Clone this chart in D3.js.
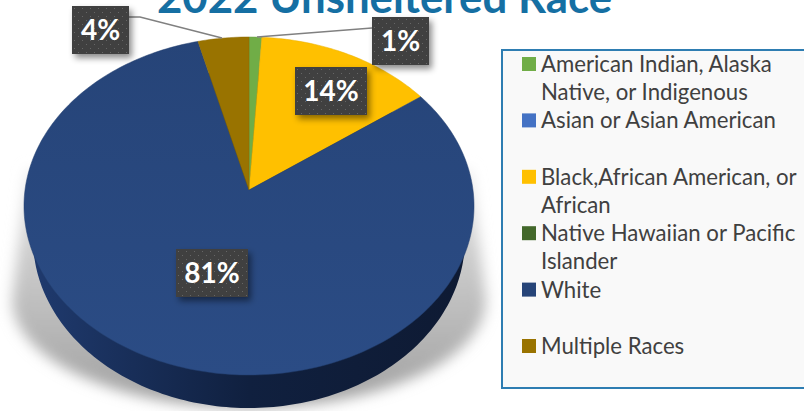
<!DOCTYPE html>
<html>
<head>
<meta charset="utf-8">
<script src="https://cdn.jsdelivr.net/npm/d3@7"></script>
<style>
html, body { margin: 0; padding: 0; background: #fff; overflow: hidden; }
text { font-family: Lato, sans-serif; }
</style>
</head>
<body>
<svg id="chart" width="804" height="411"></svg>
<script>
const categories = [
	'American Indian, Alaska Native, or Indigenous',
	'Asian or Asian American',
	'Black,African American, or African',
	'Native Hawaiian or Pacific Islander',
	'White',
	'Multiple Races'
]
const values = [1, 0, 14, 0, 81, 4]
const colors = ['#70ad47', '#4472c4', '#ffc000', '#43682b', '#264478', '#997300']
const legendLines = [
	['American Indian, Alaska', 'Native, or Indigenous'],
	['Asian or Asian American', ''],
	['Black,African American, or', 'African'],
	['Native Hawaiian or Pacific', 'Islander'],
	['White', ''],
	['Multiple Races']
]
const title = '2022 Unsheltered Race'

// label boxes sit where the original chart had them dragged to
const labelBoxes = {
	0: { x: 372, y: 17, w: 57, leader: [[372, 28], [257, 37]] },
	2: { x: 295, y: 67, w: 72 },
	4: { x: 176, y: 249, w: 72 },
	5: { x: 72, y: 6, w: 57, leader: [[129, 17], [140, 17], [222, 38]] }
}

const svg = d3.select('#chart')
const defs = svg.append('defs')

const blur = defs.append('filter').attr('id', 'floorBlur')
	.attr('x', '-20%').attr('y', '-20%').attr('width', '140%').attr('height', '140%')
blur.append('feGaussianBlur').attr('stdDeviation', 7)

const floorGrad = defs.append('linearGradient').attr('id', 'floorGrad')
	.attr('x1', 0).attr('x2', 0).attr('y1', 0).attr('y2', 1)
floorGrad.append('stop').attr('offset', 0).attr('stop-color', '#ececec')
floorGrad.append('stop').attr('offset', 0.35).attr('stop-color', '#cdcdcd')
floorGrad.append('stop').attr('offset', 1).attr('stop-color', '#a0a0a0')

const wallGrad = defs.append('linearGradient').attr('id', 'wallGrad')
wallGrad.append('stop').attr('offset', 0).attr('stop-color', '#1f3a6e')
wallGrad.append('stop').attr('offset', 0.5).attr('stop-color', '#10203f')
wallGrad.append('stop').attr('offset', 1).attr('stop-color', '#0e1a33')

const faceGrad = defs.append('linearGradient').attr('id', 'faceGrad')
	.attr('gradientUnits', 'userSpaceOnUse')
	.attr('x1', 249).attr('x2', 249).attr('y1', 37).attr('y2', 375)
faceGrad.append('stop').attr('offset', 0).attr('stop-color', '#264478')
faceGrad.append('stop').attr('offset', 1).attr('stop-color', '#2b4c85')

const shadow = defs.append('filter').attr('id', 'boxShadow')
	.attr('x', '-30%').attr('y', '-30%').attr('width', '170%').attr('height', '170%')
shadow.append('feDropShadow').attr('dx', 3).attr('dy', 4).attr('stdDeviation', 3)
	.attr('flood-color', '#000').attr('flood-opacity', 0.45)

const dots = defs.append('pattern').attr('id', 'dots')
	.attr('width', 8).attr('height', 8).attr('patternUnits', 'userSpaceOnUse')
dots.append('rect').attr('width', 8).attr('height', 8).attr('fill', '#404040')
dots.append('rect').attr('x', 2).attr('y', 2).attr('width', 1).attr('height', 1).attr('fill', '#666')
dots.append('rect').attr('x', 6).attr('y', 6).attr('width', 1).attr('height', 1).attr('fill', '#666')

// the pie is tilted with perspective, so the apex is above the ellipse centre
const persp = -0.0947
const project = (a, r, cx, cy, kx, ky) => {
	const u = Math.sin(a) * r
	const v = -Math.cos(a) * r
	const w = 1 + persp * v
	return [cx + kx * u / w, cy + ky * v / w]
}

const slicePath = (d, cx, cy, kx, ky) => {
	const steps = Math.max(2, Math.ceil((d.endAngle - d.startAngle) / 0.02))
	const pts = [[cx, cy]]
	d3.range(steps + 1).forEach(i => {
		const a = d.startAngle + (d.endAngle - d.startAngle) * i / steps
		pts.push(project(a, 1, cx, cy, kx, ky))
	})
	return d3.line()(pts) + 'Z'
}

const arcs = d3.pie().sort(null).value(d => d)(values)
const shown = arcs.filter(d => d.value > 0)

// floor shadow, tapers upward behind the pie
svg.append('path')
	.attr('d', 'M27 170 L12 300 A237 108 0 0 0 486 300 L471 170 Z')
	.attr('fill', 'url(#floorGrad)')
	.attr('filter', 'url(#floorBlur)')

// side wall
svg.append('g').selectAll('path')
	.data(shown)
	.enter()
	.append('path')
	.attr('d', d => slicePath(d, 249, 223, 215, 167.5))
	.attr('fill', 'url(#wallGrad)')

// top face
svg.append('g').selectAll('path')
	.data(shown)
	.enter()
	.append('path')
	.attr('d', d => slicePath(d, 249, 190, 224, 167.5))
	.attr('fill', d => d.index === 4 ? 'url(#faceGrad)' : colors[d.index])
	.attr('stroke', d => d3.color(colors[d.index]).darker(0.25))
	.attr('stroke-width', 0.5)

// leader lines
const leaderData = Object.values(labelBoxes).filter(d => d.leader)
svg.append('g').selectAll('path')
	.data(leaderData)
	.enter()
	.append('path')
	.attr('d', d => d3.line()(d.leader))
	.attr('fill', 'none')
	.attr('stroke', '#808080')
	.attr('stroke-width', 1.5)

// data labels
const labels = svg.append('g').selectAll('g')
	.data(shown)
	.enter()
	.append('g')
	.attr('transform', d => `translate(${labelBoxes[d.index].x},${labelBoxes[d.index].y})`)

labels.append('rect')
	.attr('width', d => labelBoxes[d.index].w)
	.attr('height', 48)
	.attr('fill', 'url(#dots)')
	.attr('filter', 'url(#boxShadow)')

labels.append('text')
	.attr('x', d => labelBoxes[d.index].w / 2)
	.attr('y', 34)
	.attr('text-anchor', 'middle')
	.attr('font-size', 28)
	.attr('font-weight', 700)
	.attr('fill', '#fff')
	.text(d => d.value + '%')

// title, clipped by the top of the picture like the original
svg.append('text')
	.attr('x', 384.5)
	.attr('y', 13)
	.attr('text-anchor', 'middle')
	.attr('font-size', 43.8)
	.attr('font-weight', 700)
	.attr('fill', '#156fa3')
	.text(title)

// legend
svg.append('rect')
	.attr('x', 502).attr('y', 50)
	.attr('width', 320).attr('height', 338)
	.attr('fill', '#f9f9f9')
	.attr('stroke', '#2e7db2')
	.attr('stroke-width', 2)

let lineY = 0
const legend = svg.append('g').selectAll('g')
	.data(categories)
	.enter()
	.append('g')
	.attr('transform', (d, i) => {
		const y = 57 + lineY * 28.2
		lineY += legendLines[i].length
		return `translate(522,${y})`
	})

legend.append('rect')
	.attr('width', 14)
	.attr('height', 14)
	.attr('fill', (d, i) => colors[i])

legend.each(function (d, i) {
	d3.select(this).selectAll('text')
		.data(legendLines[i])
		.enter()
		.append('text')
		.attr('x', 19)
		.attr('y', (t, j) => 15 + j * 28.2)
		.attr('font-size', 22.2)
		.attr('fill', '#404040')
		.text(t => t)
})
</script>
</body>
</html>
